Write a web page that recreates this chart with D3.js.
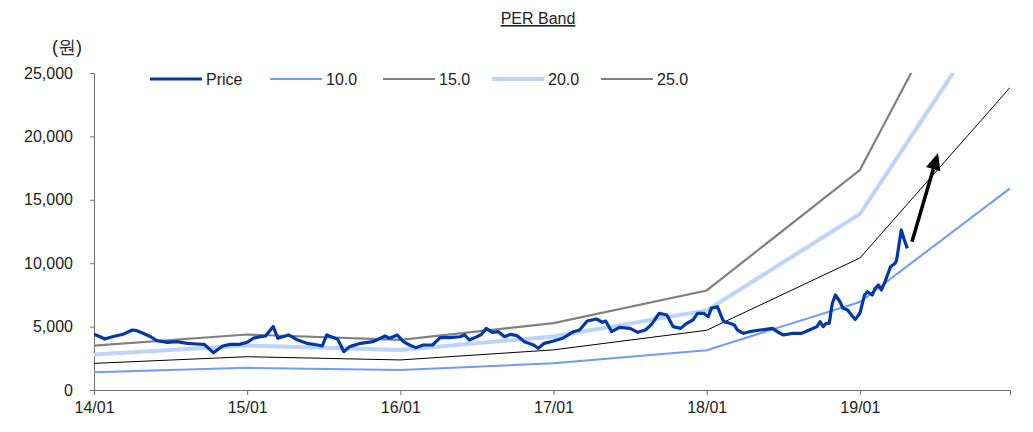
<!DOCTYPE html>
<html>
<head>
<meta charset="utf-8">
<title>PER Band</title>
<script src="https://d3js.org/d3.v7.min.js"></script>
<style>
  body { margin: 0; background: #fff; }
  text { font-family: "Liberation Sans", Arial, sans-serif; }
</style>
</head>
<body>
<div id="chart"></div>
<script>
// price, x in decimal years
var priceT = [2014.00,2014.04,2014.07,2014.12,2014.19,2014.25,2014.28,2014.32,2014.37,2014.41,2014.48,2014.54,2014.61,2014.67,2014.72,2014.78,2014.84,2014.89,2014.95,2015.00,
  2015.04,2015.06,2015.12,2015.17,2015.20,2015.27,2015.33,2015.39,2015.46,2015.49,2015.52,2015.59,2015.61,2015.63,2015.67,2015.74,2015.82,2015.90,2015.93,2015.98,
  2016.02,2016.06,2016.10,2016.15,2016.21,2016.26,2016.32,2016.39,2016.42,2016.45,2016.50,2016.53,2016.56,2016.60,2016.64,2016.68,2016.72,2016.76,2016.81,2016.87,2016.90,2016.94,
  2017.00,2017.06,2017.13,2017.17,2017.22,2017.28,2017.32,2017.34,2017.38,2017.43,2017.50,2017.55,2017.60,2017.64,2017.69,2017.74,2017.78,2017.83,2017.87,2017.91,2017.94,2017.98,
  2018.01,2018.03,2018.07,2018.11,2018.15,2018.18,2018.20,2018.24,2018.28,2018.35,2018.43,2018.46,2018.50,2018.56,2018.62,2018.67,2018.72,2018.74,2018.76,2018.78,2018.80,2018.82,2018.84,2018.87,2018.89,2018.92,2018.95,2018.97,
  2019.00,2019.03,2019.05,2019.08,2019.10,2019.12,2019.14,2019.16,2019.20,2019.23,2019.24,2019.26,2019.27,2019.29,2019.31];
var priceV = [4390,4200,4020,4200,4400,4730,4680,4470,4200,3890,3760,3810,3680,3630,3600,2940,3470,3600,3600,3760,
  4080,4150,4260,5000,4080,4340,3940,3680,3550,3470,4340,4000,3550,3020,3420,3680,3810,4260,4080,4340,
  3810,3550,3340,3550,3550,4130,4130,4200,4340,3940,4200,4390,4860,4550,4600,4200,4390,4290,3810,3550,3290,3680,
  3860,4080,4600,4730,5440,5600,5340,5440,4600,4940,4860,4550,4730,5180,6050,5910,5000,4860,5260,5520,6050,6050,
  5780,6440,6570,5390,5260,5130,4730,4470,4600,4730,4860,4600,4340,4470,4470,4730,5000,5390,5000,5260,5260,6840,7490,6960,6440,6310,5840,5570,
  6050,7490,7750,7490,8020,8280,7890,8410,9720,9990,10250,11830,12620,11830,11170];

// EPS used for the band lines
var epsT = [2014.0, 2015.0, 2016.0, 2017.0, 2018.0, 2019.0, 2019.98];
var epsV = [140, 175, 158, 211, 314, 694, 1590];
var multiples = [10, 15, 20, 25];

var yTicks = [0, 5000, 10000, 15000, 20000, 25000];
var xTicks = [2014, 2015, 2016, 2017, 2018, 2019];
var xTickLabels = ["14/01", "15/01", "16/01", "17/01", "18/01", "19/01"];

var arrowT = [2019.34, 2019.51];
var arrowV = [11700, 18700];

var width = 1033, height = 432;
var margin = {top: 73, right: 23, bottom: 42, left: 94};

var svg = d3.select("#chart").append("svg")
  .attr("width", width).attr("height", height);

var x = d3.scaleLinear().domain([2014, 2019.98]).range([margin.left, width - margin.right]);
var y = d3.scaleLinear().domain([0, 25000]).range([height - margin.bottom, margin.top]);

svg.append("defs").append("clipPath").attr("id", "clip")
  .append("rect")
  .attr("x", margin.left).attr("y", margin.top)
  .attr("width", width - margin.left - margin.right)
  .attr("height", height - margin.top - margin.bottom);

// axes
var yAxis = svg.append("g")
  .attr("transform", "translate(" + margin.left + ",0)")
  .call(d3.axisLeft(y).tickValues(yTicks).tickSize(4).tickPadding(17).tickFormat(d3.format(",")));
var xAxis = svg.append("g")
  .attr("transform", "translate(0," + (height - margin.bottom) + ")")
  .call(d3.axisBottom(x).tickValues(xTicks).tickSize(5).tickPadding(7)
    .tickFormat(function(d, i) { return xTickLabels[i]; }));

[yAxis, xAxis].forEach(function(a) {
  a.select(".domain").attr("stroke", "#6e6e6e");
  a.selectAll(".tick line").attr("stroke", "#6e6e6e");
  a.selectAll("text").attr("font-size", 16).attr("fill", "#222")
    .attr("font-family", "'Liberation Sans', Arial, sans-serif");
});

// band lines
var bandStyle = {
  10: {color: "#6e9df5", w: 2},
  15: {color: "#000000", w: 1},
  20: {color: "#bcd3fb", w: 4},
  25: {color: "#808080", w: 2.2}
};

var plot = svg.append("g").attr("clip-path", "url(#clip)");

var lineGen = d3.line()
  .x(function(d) { return x(d[0]); })
  .y(function(d) { return y(d[1]); });

var drawOrder = [25, 20, 15, 10];
drawOrder.forEach(function(m) {
  var pts = epsT.map(function(t, i) { return [t, epsV[i] * m]; });
  plot.append("path")
    .attr("d", lineGen(pts))
    .attr("fill", "none")
    .attr("stroke", bandStyle[m].color)
    .attr("stroke-width", bandStyle[m].w);
});

var pricePts = priceT.map(function(t, i) { return [t, priceV[i]]; });
plot.append("path")
  .attr("d", lineGen(pricePts))
  .attr("fill", "none")
  .attr("stroke", "#0039a6")
  .attr("stroke-width", 3.2)
  .attr("stroke-linejoin", "round");

// arrow
var ax0 = x(arrowT[0]), ay0 = y(arrowV[0]), ax1 = x(arrowT[1]), ay1 = y(arrowV[1]);
var ang = Math.atan2(ay1 - ay0, ax1 - ax0);
var headL = 17, headW = 7.5;
var bx = ax1 - headL * Math.cos(ang), by = ay1 - headL * Math.sin(ang);
svg.append("line")
  .attr("x1", ax0).attr("y1", ay0).attr("x2", bx).attr("y2", by)
  .attr("stroke", "#000").attr("stroke-width", 3.5);
svg.append("path")
  .attr("d", "M" + ax1 + "," + ay1 +
    "L" + (bx + headW * Math.sin(ang)) + "," + (by - headW * Math.cos(ang)) +
    "L" + (bx - headW * Math.sin(ang)) + "," + (by + headW * Math.cos(ang)) + "Z")
  .attr("fill", "#000");

// legend
var legendItems = [
  {name: "Price", color: "#0039a6", w: 3.2, x: 150},
  {name: "10.0", color: "#6e9df5", w: 2, x: 270},
  {name: "15.0", color: "#000000", w: 1, x: 383},
  {name: "20.0", color: "#bcd3fb", w: 4, x: 492},
  {name: "25.0", color: "#808080", w: 2.2, x: 601}
];
var lg = svg.append("g");
legendItems.forEach(function(it) {
  lg.append("line")
    .attr("x1", it.x).attr("x2", it.x + 52)
    .attr("y1", 79).attr("y2", 79)
    .attr("stroke", it.color).attr("stroke-width", it.w);
  lg.append("text")
    .attr("x", it.x + 56).attr("y", 85)
    .attr("font-size", 16).attr("fill", "#222")
    .text(it.name);
});

// title + unit
svg.append("text")
  .attr("x", 538).attr("y", 24)
  .attr("text-anchor", "middle")
  .attr("font-size", 16).attr("fill", "#222")
  .attr("text-decoration", "underline")
  .text("PER Band");

svg.append("text")
  .attr("x", 52).attr("y", 53)
  .attr("font-size", 18).attr("fill", "#222")
  .attr("font-family", "'Noto Sans CJK KR', sans-serif")
  .text("(원)");
</script>
</body>
</html>
